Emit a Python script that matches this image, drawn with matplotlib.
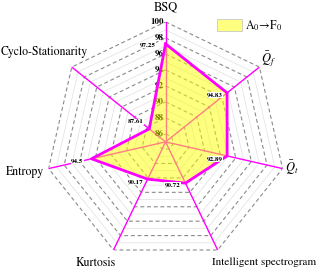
import numpy as np
import matplotlib
matplotlib.use('Agg')
import matplotlib.pyplot as plt
from matplotlib.patches import Patch

plt.rcParams['font.family'] = 'STIXGeneral'
plt.rcParams['mathtext.fontset'] = 'stix'

# data
categories = ['BSQ', r'$\bar{Q}_f$', r'$\bar{Q}_t$', 'Intelligent spectrogram',
              'Kurtosis', 'Entropy', 'Cyclo-Stationarity']
values = [97.25, 94.83, 92.89, 90.72, 90.17, 94.5, 87.61]
value_text = ['97.25', '94.83', '92.89', '90.72', '90.17', '94.5', '87.61']
series_name = r'A$_0$$\!\rightarrow\!$F$_0$'
rmin, rmax = 85, 100
major_ticks = [86, 88, 90, 92, 94, 96, 98, 100]
minor_ticks = [87, 89, 91, 93, 95, 97, 99]

n = len(categories)
angles = np.linspace(0, 2 * np.pi, n, endpoint=False)
ang_closed = np.append(angles, angles[0])

fig = plt.figure(figsize=(3.16, 2.70), dpi=100)
ax = fig.add_axes([0.144, 0.030, 0.760, 0.889], projection='polar')
ax.set_theta_offset(np.pi / 2)
ax.set_theta_direction(-1)
ax.set_ylim(rmin, rmax)
ax.grid(False)
ax.spines['polar'].set_visible(False)
ax.set_xticks([])
ax.set_yticks([])
ax.patch.set_alpha(0)

# heptagon grid
for r in minor_ticks:
    ax.plot(ang_closed, [r] * (n + 1), color='#e0e0e0', lw=0.5, zorder=1)
for r in major_ticks:
    ax.plot(ang_closed, [r] * (n + 1), color='#8a8a8a', lw=0.8,
            linestyle=(0, (3.5, 2.5)), zorder=1)

# spokes
for a in angles:
    ax.plot([a, a], [rmin, rmax], color='#ff00ff', lw=1, zorder=2)

# radial tick labels along first axis
for r in major_ticks:
    ax.annotate(str(r), xy=(0, r), xytext=(-2, 0), textcoords='offset pixels',
                ha='right', va='center', fontsize=6.5, fontweight='bold', zorder=3)

# data polygon
vals_closed = values + values[:1]
ax.fill(ang_closed, vals_closed, color='#ffff00', alpha=0.5, zorder=4, lw=0)
ax.plot(ang_closed, vals_closed, color='#ff00ff', lw=2, zorder=5)

# value labels
val_offsets = [(-10, -1), (-4, -2), (-4, -3), (-5, -2), (-4, -3), (-8, -2), (-6, 7)]
for a, v, t, off in zip(angles, values, value_text, val_offsets):
    ax.annotate(t, xy=(a, v), xytext=off, textcoords='offset pixels',
                ha='right', va='center', fontsize=5, fontweight='bold', zorder=6,
                bbox=dict(boxstyle='square,pad=0.05', fc='white', ec='none'))

# category labels
cat_style = [((0, 14), 'center', 'center', 9), ((2, 9), 'left', 'center', 9),
             ((2, 1), 'left', 'center', 9), ((-6, -12), 'left', 'center', 8),
             ((2, -13), 'right', 'center', 8.5), ((-5, -3), 'right', 'center', 8.5),
             ((-28, 15), 'center', 'center', 8.5)]
for a, c, (off, ha, va, fs) in zip(angles, categories, cat_style):
    ax.annotate(c, xy=(a, rmax), xytext=off, textcoords='offset pixels',
                ha=ha, va=va, fontsize=fs, annotation_clip=False)

handle = Patch(facecolor='#ffff80', edgecolor='#c8c8c8', lw=0.6)
fig.legend([handle], [series_name], loc='upper left', bbox_to_anchor=(0.672, 0.95),
           frameon=False, fontsize=8.5, handlelength=2.1, handleheight=1.2,
           handletextpad=0.3, borderaxespad=0)

fig.savefig('out.png', dpi=100)
